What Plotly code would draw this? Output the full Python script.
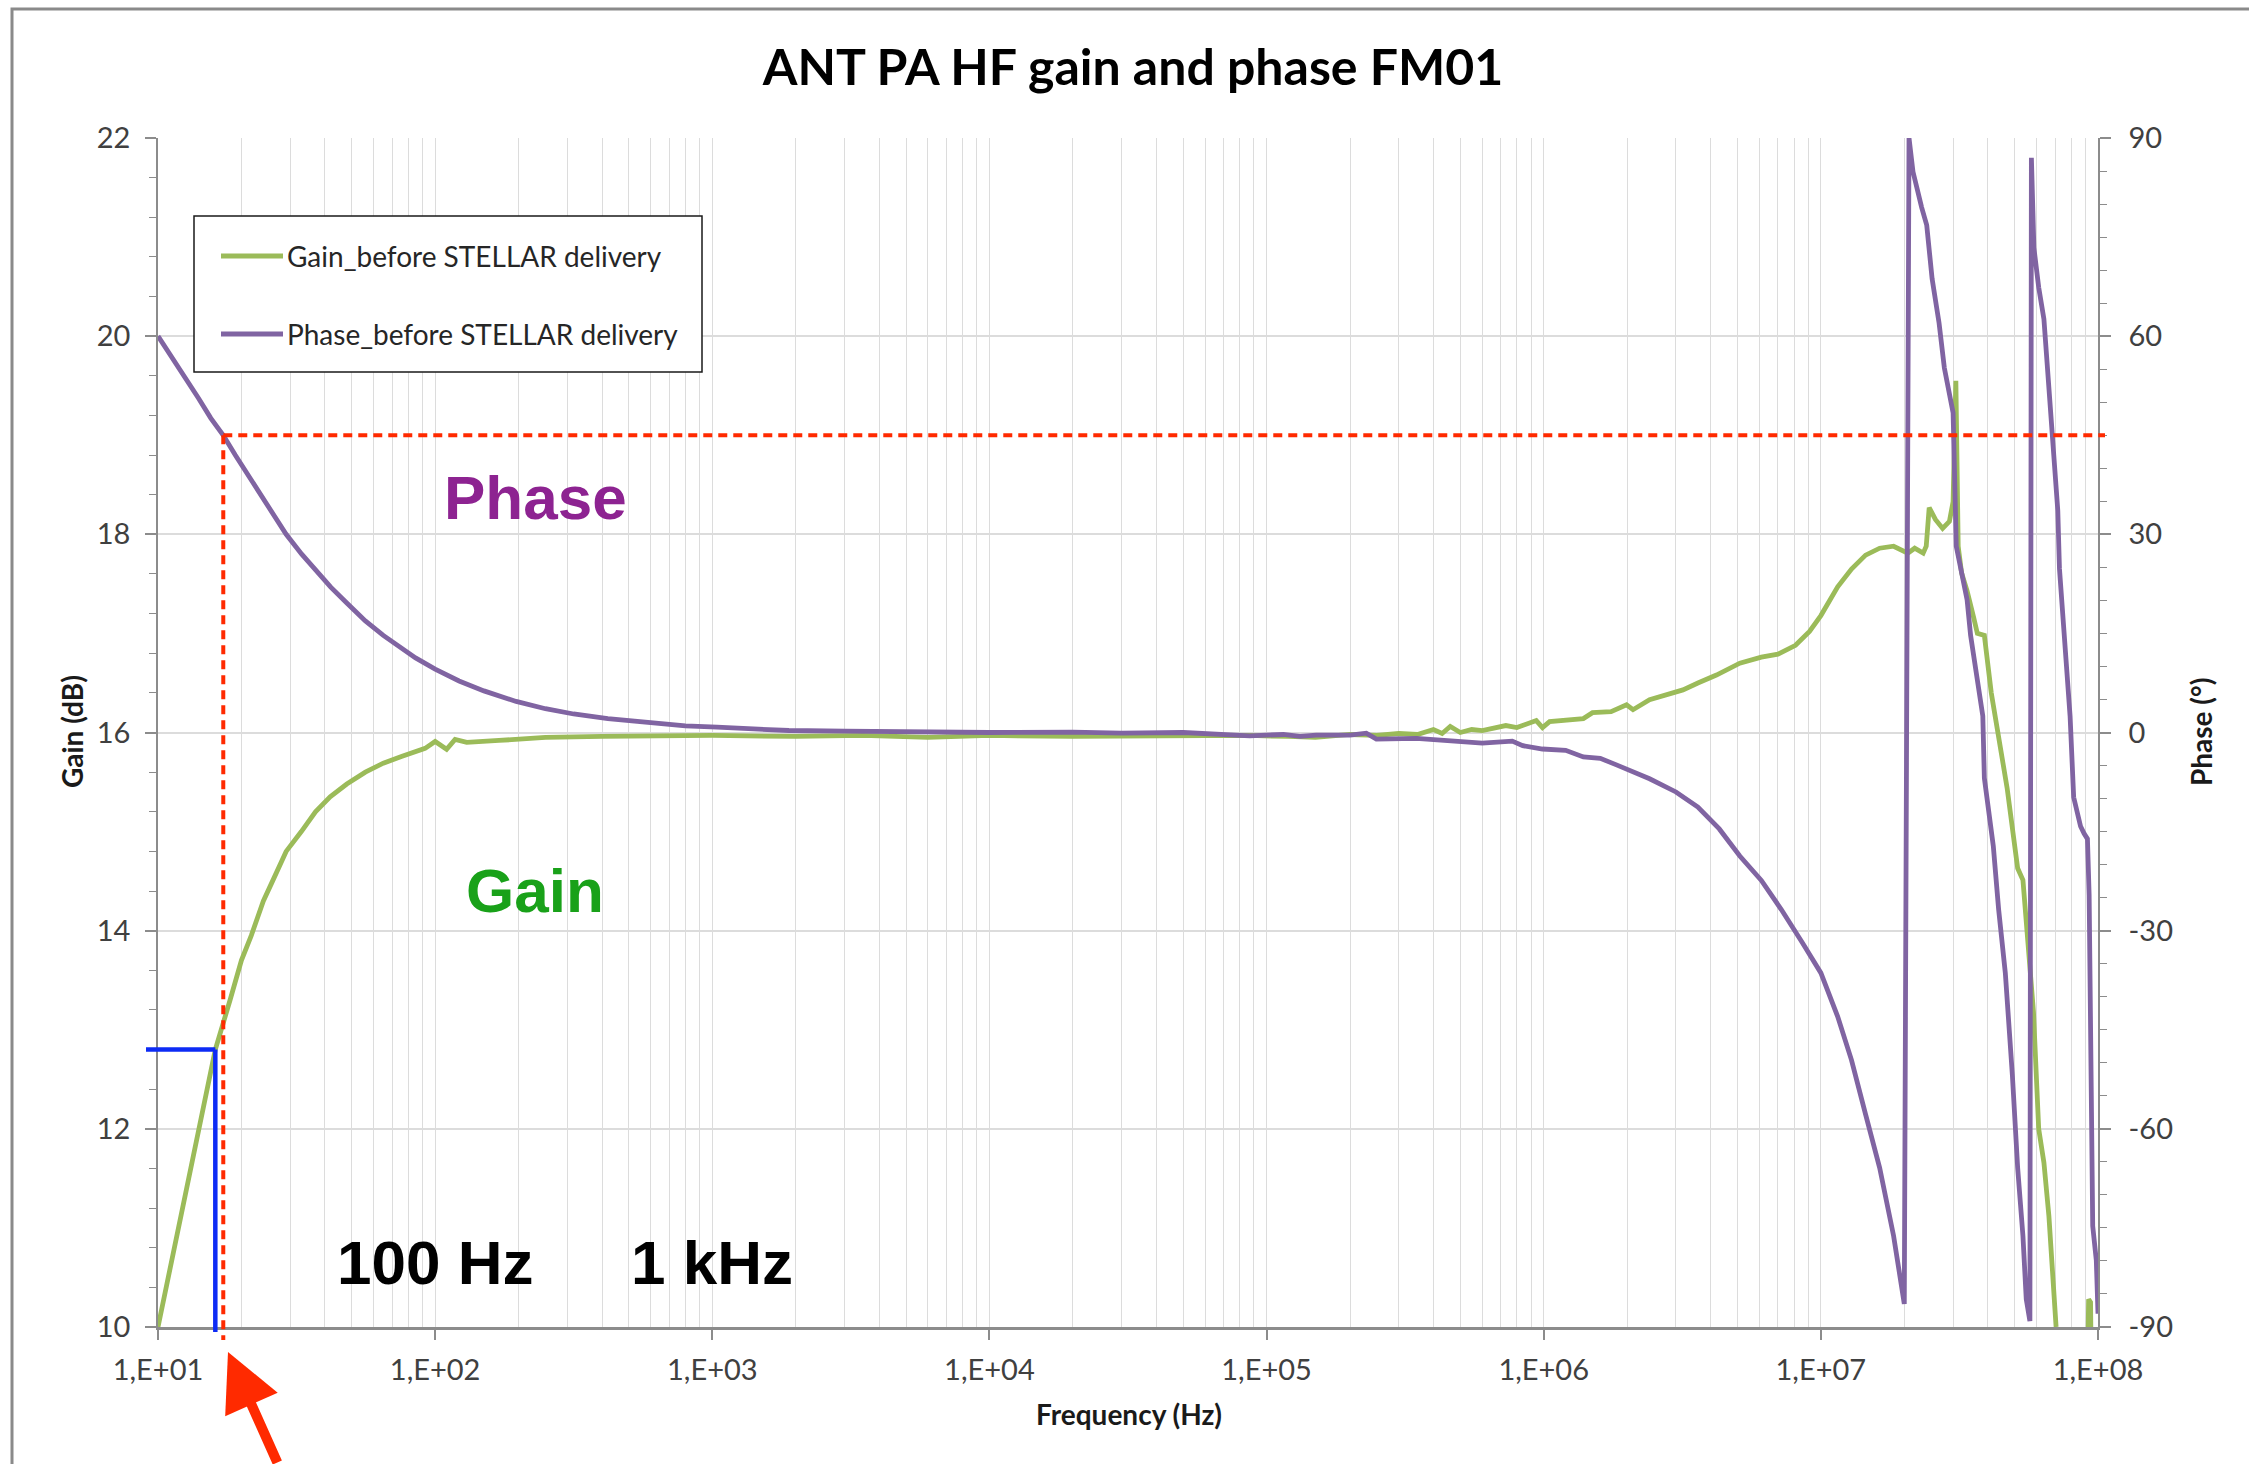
import math
import plotly.graph_objects as go

# ---------------- measured response ----------------
gain_freq_hz = [
    10, 11, 12.7, 14.3, 16.1, 18.2, 20, 21.7, 24, 25.9, 29, 32.9, 37, 41.8, 48, 56, 65, 76, 92,
    100, 110, 118, 130,
    170, 250, 400, 700, 1000, 2000, 3500, 6000, 1e4, 2e4, 5e4, 8.7e4, 1.2e5, 1.5e5,
    2e5, 2.5e5, 3.0e5, 3.5e5, 4.0e5, 4.3e5, 4.6e5, 5.0e5, 5.5e5, 6.0e5, 7.3e5, 8.0e5,
    9.4e5, 9.9e5, 1.05e6, 1.39e6, 1.5e6, 1.75e6, 1.99e6, 2.1e6, 2.41e6, 3.18e6, 3.6e6,
    4.2e6, 5.1e6, 6.1e6, 7.0e6, 8.1e6, 9.1e6, 1.0e7, 1.15e7, 1.29e7, 1.45e7, 1.63e7,
    1.83e7, 2.06e7, 2.18e7, 2.34e7, 2.40e7, 2.46e7, 2.59e7, 2.75e7, 2.91e7, 3.0e7,
    3.07e7, 3.13e7, 3.22e7, 3.37e7, 3.56e7, 3.67e7, 3.89e7, 4.12e7, 4.70e7, 5.13e7,
    5.36e7, 5.60e7, 5.85e7, 6.11e7, 6.38e7, 6.65e7, 7.06e7, 8.0e7, 9.0e7, 9.25e7,
    9.4e7, 9.6e7, 1.0e8,
]
gain_db = [
    10.0, 10.56, 11.41, 12.10, 12.8, 13.3, 13.7, 13.95, 14.3, 14.5, 14.8, 15.0, 15.2, 15.35, 15.48, 15.60, 15.69, 15.76, 15.84,
    15.91, 15.83, 15.93, 15.90,
    15.92, 15.95, 15.96, 15.97, 15.97, 15.96, 15.97, 15.95, 15.97, 15.96, 15.97, 15.97, 15.96, 15.95,
    15.98, 15.97, 15.99, 15.98, 16.03, 15.99, 16.06, 16.00, 16.03, 16.02, 16.07, 16.05,
    16.12, 16.05, 16.11, 16.14, 16.20, 16.21, 16.28, 16.23, 16.33, 16.43, 16.50,
    16.58, 16.70, 16.76, 16.79, 16.88, 17.02, 17.18, 17.47, 17.65, 17.79, 17.86,
    17.88, 17.81, 17.86, 17.81, 17.88, 18.27, 18.15, 18.06, 18.13, 18.33,
    19.55, 17.88, 17.61, 17.43, 17.16, 17.00, 16.98, 16.40, 15.44, 14.63,
    14.51, 13.77, 13.18, 12.00, 11.66, 11.12, 10.00, 8.60, 8.00, 10.28,
    10.25, 8.00, 7.50,
]

phase_freq_hz = [
    10, 11, 12.7, 14, 15.5, 17.2, 19, 21, 23, 26, 29, 33, 37, 42, 48, 56, 65, 75, 85, 100,
    122, 150, 196, 250, 316, 420, 574, 800, 1040, 1400, 1890, 3000, 5000, 1e4, 2e4, 3e4, 5e4, 8.7e4,
    1.15e5, 1.32e5, 1.51e5, 2.0e5, 2.29e5, 2.49e5, 3.47e5, 4.57e5, 6.0e5, 7.7e5,
    8.4e5, 9.9e5, 1.2e6, 1.39e6, 1.6e6, 1.83e6, 2.41e6, 3.0e6, 3.6e6, 4.3e6, 5.1e6,
    6.1e6, 7.2e6, 8.6e6, 1.0e7, 1.15e7, 1.29e7, 1.45e7, 1.63e7, 1.83e7, 2.0e7,
    2.08e7, 2.15e7, 2.31e7, 2.41e7, 2.52e7, 2.67e7, 2.79e7, 2.91e7, 3.0e7, 3.08e7,
    3.18e7, 3.37e7, 3.47e7, 3.67e7, 3.84e7, 3.89e7, 4.19e7, 4.38e7, 4.63e7, 4.91e7,
    5.13e7, 5.36e7, 5.51e7, 5.68e7, 5.75e7, 5.87e7, 6.11e7, 6.38e7, 6.56e7, 6.76e7,
    7.16e7, 7.26e7, 7.59e7, 7.93e7, 8.17e7, 8.65e7, 8.91e7, 9.16e7, 9.29e7, 9.44e7,
    9.57e7, 9.86e7, 1.0e8,
]
phase_deg = [
    60.0, 57.4, 53.3, 50.6, 47.6, 45.0, 42.0, 39.2, 36.5, 32.9, 30.0, 27.0, 24.6, 22.0, 19.6, 16.9, 14.7, 12.8, 11.3, 9.6,
    7.8, 6.3, 4.7, 3.6, 2.8, 2.1, 1.5, 1.0, 0.8, 0.5, 0.3, 0.2, 0.1, 0.0, 0.05, -0.1, 0.0, -0.5,
    -0.3, -0.6, -0.4, -0.4, -0.1, -1.0, -0.9, -1.3, -1.6, -1.3,
    -2.0, -2.5, -2.7, -3.7, -3.9, -4.9, -7.0, -9.0, -11.3, -14.6, -18.7,
    -22.4, -26.8, -31.9, -36.4, -43.0, -49.6, -57.8, -65.9, -76.2, -86.5,
    90.0, 84.9, 79.5, 76.8, 68.7, 62.0, 55.2, 51.1, 48.4, 28.2,
    25.5, 20.1, 14.7, 7.9, 2.5, -6.9, -17.2, -26.8, -36.4, -51.9,
    -65.9, -76.2, -85.8, -89.1, 87.0, 73.4, 67.4, 62.6, 55.2, 48.4,
    33.6, 24.8, 14.7, 2.5, -9.8, -14.2, -15.3, -16.1, -24.6, -46.7,
    -74.7, -79.9, -88.0,
]

# axis ticks
freq_tick_vals = [1e1, 1e2, 1e3, 1e4, 1e5, 1e6, 1e7, 1e8]
freq_tick_text = ["1,E+01", "1,E+02", "1,E+03", "1,E+04", "1,E+05", "1,E+06", "1,E+07", "1,E+08"]
gain_tick_vals = [10, 12, 14, 16, 18, 20, 22]
phase_tick_vals = [-90, -60, -30, 0, 30, 60, 90]
phase_tick_text = ["-90", "-60", "-30", "0", "30", "60", "90"]

# marked operating points
cutoff_freq_hz = 16.1      # -3 dB corner
cutoff_gain_db = 12.8
phase45_freq_hz = 17.2     # 45 degree phase point
phase45_deg = 45

series_names = ["Gain_before STELLAR delivery", "Phase_before STELLAR delivery"]

# ---------------- layout geometry ----------------
W, H = 2249, 1464
ML, MR, MT, MB = 158, 151, 138, 137
PW, PH = W - ML - MR, H - MT - MB

FREQ_MIN, FREQ_MAX = 10, 1e8
GAIN_MIN, GAIN_MAX = 10, 22
PH_MIN, PH_MAX = -90, 90

GREEN = "#9BBB59"
PURPLE = "#8064A2"
RED = "#FF2A00"
BLUE = "#0D2BF5"
AXIS_GREY = "#8C8C8C"
GRID_GREY = "#DCDCDC"
TEXT_GREY = "#404040"
FONT = "Lato, 'Open Sans', sans-serif"


def px(x):
    return (x - ML) / PW


def py(y):
    return (H - MB - y) / PH


def fx(f):
    return (math.log10(f) - math.log10(FREQ_MIN)) / (math.log10(FREQ_MAX) - math.log10(FREQ_MIN))


def gy(g):
    return (g - GAIN_MIN) / (GAIN_MAX - GAIN_MIN)


def phy(p):
    return (p - PH_MIN) / (PH_MAX - PH_MIN)


fig = go.Figure()
fig.add_trace(go.Scatter(x=gain_freq_hz, y=gain_db, mode="lines", name=series_names[0],
                         line=dict(color=GREEN, width=4.8), yaxis="y", showlegend=False))
fig.add_trace(go.Scatter(x=phase_freq_hz, y=phase_deg, mode="lines", name=series_names[1],
                         line=dict(color=PURPLE, width=4.8), yaxis="y2", showlegend=False))

minor_freqs = [m * 10 ** e for e in range(1, 8) for m in range(2, 10)]

fig.update_layout(
    width=W, height=H,
    margin=dict(l=ML, r=MR, t=MT, b=MB),
    paper_bgcolor="white", plot_bgcolor="white",
    font=dict(family=FONT, color=TEXT_GREY),
    title=dict(text="<b>ANT PA HF gain and phase FM01</b>", x=px(1133), xref="paper",
               y=1 - 67 / H, yanchor="middle", xanchor="center",
               font=dict(size=50, color="black", family=FONT)),
    xaxis=dict(
        type="log", range=[math.log10(FREQ_MIN), math.log10(FREQ_MAX)],
        tickmode="array", tickvals=freq_tick_vals, ticktext=freq_tick_text,
        ticks="outside", ticklen=10, tickwidth=1.5, tickcolor=AXIS_GREY,
        showline=True, linecolor=AXIS_GREY, linewidth=2.5,
        showgrid=True, gridcolor=GRID_GREY, gridwidth=1.3,
        minor=dict(tickmode="array", tickvals=minor_freqs, showgrid=True,
                   gridcolor=GRID_GREY, gridwidth=1.3, ticks=""),
        tickfont=dict(size=29, color=TEXT_GREY), ticklabelstandoff=5,
        zeroline=False,
    ),
    yaxis=dict(
        range=[GAIN_MIN, GAIN_MAX], tickmode="array", tickvals=gain_tick_vals,
        ticks="outside", ticklen=11, tickwidth=1.5, tickcolor=AXIS_GREY,
        showline=True, linecolor=AXIS_GREY, linewidth=1.5,
        showgrid=True, gridcolor=GRID_GREY, gridwidth=1.5,
        minor=dict(dtick=0.4, tick0=10, ticks="outside", ticklen=7, tickcolor=AXIS_GREY,
                   tickwidth=1.2, showgrid=False),
        tickfont=dict(size=29, color=TEXT_GREY), ticklabelstandoff=9,
        zeroline=False,
    ),
    yaxis2=dict(
        range=[PH_MIN, PH_MAX], overlaying="y", side="right",
        tickmode="array", tickvals=phase_tick_vals, ticktext=phase_tick_text,
        ticks="outside", ticklen=11, tickwidth=1.5, tickcolor=AXIS_GREY,
        showline=True, linecolor=AXIS_GREY, linewidth=1.5,
        showgrid=False,
        minor=dict(dtick=5, tick0=-90, ticks="outside", ticklen=7, tickcolor=AXIS_GREY,
                   tickwidth=1.2, showgrid=False),
        tickfont=dict(size=29, color=TEXT_GREY), ticklabelstandoff=12,
        zeroline=False,
    ),
)

shapes = []
# chart frame
shapes.append(dict(type="rect", xref="paper", yref="paper",
                   x0=px(12), x1=px(W + 20), y0=py(H + 20), y1=py(9),
                   line=dict(color="#8A8A8A", width=3), fillcolor="rgba(0,0,0,0)", layer="below"))
# -3 dB marker (blue)
shapes.append(dict(type="line", xref="paper", yref="paper",
                   x0=px(146), x1=fx(cutoff_freq_hz), y0=gy(cutoff_gain_db), y1=gy(cutoff_gain_db),
                   line=dict(color=BLUE, width=4.5)))
shapes.append(dict(type="line", xref="paper", yref="paper",
                   x0=fx(cutoff_freq_hz), x1=fx(cutoff_freq_hz), y0=gy(cutoff_gain_db), y1=py(H - MB + 5),
                   line=dict(color=BLUE, width=4.5)))
# 45 degree phase marker (red dotted)
shapes.append(dict(type="line", xref="paper", yref="paper",
                   x0=fx(phase45_freq_hz), x1=px(W - MR + 7), y0=phy(phase45_deg), y1=phy(phase45_deg),
                   line=dict(color=RED, width=4, dash="9px,6px")))
shapes.append(dict(type="line", xref="paper", yref="paper",
                   x0=fx(phase45_freq_hz), x1=fx(phase45_freq_hz), y0=phy(phase45_deg), y1=py(H - MB + 13),
                   line=dict(color=RED, width=4, dash="9px,6px")))

# legend box
LX0, LX1, LY0, LY1 = 194, 702, 216, 372
shapes.append(dict(type="rect", xref="paper", yref="paper",
                   x0=px(LX0), x1=px(LX1), y0=py(LY1), y1=py(LY0),
                   line=dict(color="#1A1A1A", width=1.5), fillcolor="white"))
legend_rows = [(256, GREEN, series_names[0]), (334, PURPLE, series_names[1])]
annotations = []
for yy, col, name in legend_rows:
    shapes.append(dict(type="line", xref="paper", yref="paper",
                       x0=px(221), x1=px(283), y0=py(yy), y1=py(yy),
                       line=dict(color=col, width=5)))
    annotations.append(dict(text=name, xref="paper", yref="paper", x=px(285), y=py(yy),
                            xanchor="left", yanchor="middle", showarrow=False,
                            font=dict(size=28, color="#262626", family=FONT)))

# axis titles
annotations.append(dict(text="<b>Frequency (Hz)</b>", xref="paper", yref="paper",
                        x=px(1129), y=py(1414), xanchor="center", yanchor="middle",
                        showarrow=False, font=dict(size=28, color="#1A1A1A", family=FONT)))
annotations.append(dict(text="<b>Gain (dB)</b>", xref="paper", yref="paper",
                        x=px(72), y=py(732), xanchor="center", yanchor="middle", textangle=-90,
                        showarrow=False, font=dict(size=28, color="#1A1A1A", family=FONT)))
annotations.append(dict(text="<b>Phase (°)</b>", xref="paper", yref="paper",
                        x=px(2201), y=py(732), xanchor="center", yanchor="middle", textangle=-90,
                        showarrow=False, font=dict(size=28, color="#1A1A1A", family=FONT)))

# callouts
BIG = "'Liberation Sans', Arial, sans-serif"
annotations.append(dict(text="<b>Phase</b>", xref="x", yref="y", x=math.log10(230), y=18.37,
                        showarrow=False, font=dict(size=62, color="#8D2391", family=BIG)))
annotations.append(dict(text="<b>Gain</b>", xref="x", yref="y", x=math.log10(230), y=14.41,
                        showarrow=False, font=dict(size=62, color="#19A119", family=BIG)))
annotations.append(dict(text="<b>100 Hz</b>", xref="x", yref="y", x=math.log10(100), y=10.65,
                        showarrow=False, font=dict(size=62, color="black", family=BIG)))
annotations.append(dict(text="<b>1 kHz</b>", xref="x", yref="y", x=math.log10(1000), y=10.65,
                        showarrow=False, font=dict(size=62, color="black", family=BIG)))
# arrow pointing at the marked frequency
annotations.append(dict(text="", xref="paper", yref="paper", x=px(228), y=py(1352),
                        showarrow=True, arrowhead=2, arrowsize=1.15, arrowwidth=10,
                        arrowcolor=RED, ax=50, ay=150, axref="pixel", ayref="pixel"))

fig.update_layout(shapes=shapes, annotations=annotations)
fig.write_html("out.html")
